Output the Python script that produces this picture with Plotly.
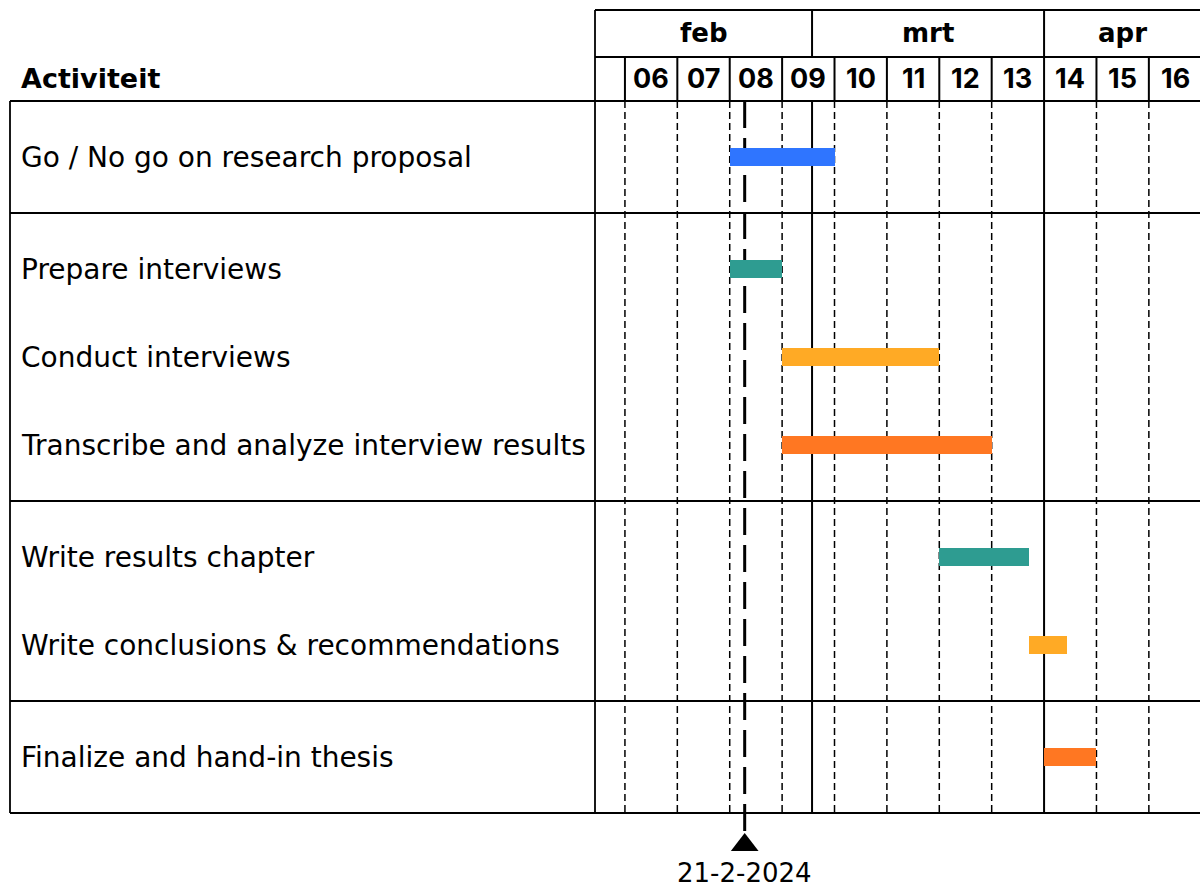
import plotly.graph_objects as go
import pandas as pd

# ---------------- data ----------------
activities = [
    "Go / No go on research proposal",
    "Prepare interviews",
    "Conduct interviews",
    "Transcribe and analyze interview results",
    "Write results chapter",
    "Write conclusions & recommendations",
    "Finalize and hand-in thesis",
]
group_ids = [0, 1, 1, 1, 2, 2, 3]
starts = ["2024-02-19", "2024-02-19", "2024-02-26", "2024-02-26",
          "2024-03-18", "2024-03-30", "2024-04-01"]
ends = ["2024-03-04", "2024-02-26", "2024-03-18", "2024-03-25",
        "2024-03-30", "2024-04-04", "2024-04-08"]
bar_colors = ["#2F75FF", "#2E9C91", "#FFAA25", "#FF7722",
              "#2E9C91", "#FFAA25", "#FF7722"]

week_labels = ["06", "07", "08", "09", "10", "11", "12", "13", "14", "15", "16"]
week_starts = ["2024-02-05", "2024-02-12", "2024-02-19", "2024-02-26",
               "2024-03-04", "2024-03-11", "2024-03-18", "2024-03-25",
               "2024-04-01", "2024-04-08", "2024-04-15"]
month_labels = ["feb", "mrt", "apr"]
month_starts = ["2024-02-01", "2024-03-01", "2024-04-01"]

today = "2024-02-21"
today_label = "21-2-2024"
header_label = "Activiteit"

x_start = "2024-02-01"
x_end = "2024-04-21 20:00"

# ---------------- layout helpers ----------------
W, H = 1200, 891
FONT = "DejaVu Sans"
DIGIT_FONT = "Inter"
ROW_H = 88
PAD = 12


def px(x):
    return x / W


def py(y):
    return 1 - y / H


# compute row centers and group boundaries (y axis in pixel-like units)
centers = []
boundaries = [0]
y = 0
n_groups = max(group_ids) + 1
for g in range(n_groups):
    y += PAD
    for i, gid in enumerate(group_ids):
        if gid == g:
            centers.append(y + ROW_H / 2)
            y += ROW_H
    y += PAD
    boundaries.append(y)
total_h = y

t_start = pd.Timestamp(x_start)
t_end = pd.Timestamp(x_end)
durations = [(pd.Timestamp(e) - pd.Timestamp(s)).total_seconds() * 1000
             for s, e in zip(starts, ends)]

fig = go.Figure()
fig.add_trace(go.Bar(
    y=centers, x=durations, base=starts, orientation="h",
    width=18, marker=dict(color=bar_colors, line=dict(width=0)),
    hoverinfo="skip", showlegend=False,
))

# today marker triangle on a full-height helper axis (pixel units, top = 0)
fig.add_trace(go.Scatter(
    x=[today], y=[845], mode="markers", yaxis="y2",
    marker=dict(symbol="triangle-up", size=24, color="black",
                line=dict(width=0)),
    cliponaxis=False, hoverinfo="skip", showlegend=False,
))

shapes = []
LC = "black"

# dashed week lines in plot area
for ws in week_starts:
    if ws in month_starts:
        continue
    shapes.append(dict(type="line", xref="x", yref="y", x0=ws, x1=ws,
                       y0=0, y1=total_h, layer="below",
                       line=dict(color=LC, width=1.5, dash="7px,4px")))

# month separators (solid), through plot area and month header row
for ms in month_starts[1:]:
    shapes.append(dict(type="line", xref="x", yref="y", x0=ms, x1=ms,
                       y0=0, y1=total_h, layer="below",
                       line=dict(color=LC, width=2)))
    shapes.append(dict(type="line", xref="x", yref="paper", x0=ms, x1=ms,
                       y0=py(10), y1=py(57), layer="below",
                       line=dict(color=LC, width=2)))

# week header cell separators
for ws in week_starts:
    shapes.append(dict(type="line", xref="x", yref="paper", x0=ws, x1=ws,
                       y0=py(57), y1=py(101), layer="below",
                       line=dict(color=LC, width=2)))

# group separators
for b in boundaries[1:-1]:
    shapes.append(dict(type="line", xref="paper", yref="y", x0=px(10), x1=1,
                       y0=b, y1=b, layer="below",
                       line=dict(color=LC, width=1.8)))

# frame lines
frame = [
    (px(595), py(10), 1, py(10)),
    (px(595), py(57), 1, py(57)),
    (px(10), py(101), 1, py(101)),
    (px(10), py(813), 1, py(813)),
    (px(595), py(10), px(595), py(813)),
    (px(10), py(101), px(10), py(813)),
]
for x0, y0, x1, y1 in frame:
    shapes.append(dict(type="line", xref="paper", yref="paper",
                       x0=x0, y0=y0, x1=x1, y1=y1, layer="below",
                       line=dict(color=LC, width=1.8)))

# today line
shapes.append(dict(type="line", xref="x", yref="paper", x0=today, x1=today,
                   y0=py(101), y1=py(832), layer="below",
                   line=dict(color=LC, width=3, dash="27px,10px")))

annotations = []
# row labels
for name, c in zip(activities, centers):
    annotations.append(dict(text=name, xref="paper", yref="y", x=px(19), y=c,
                            xanchor="left", yanchor="middle", showarrow=False,
                            font=dict(family=FONT, size=28, color="black")))
# header label
annotations.append(dict(text="<b>" + header_label + "</b>", xref="paper", yref="paper",
                        x=px(19), y=py(78), xanchor="left", yanchor="middle",
                        showarrow=False,
                        font=dict(family=FONT, size=27, color="black")))
# week labels
for wl, ws in zip(week_labels, week_starts):
    mid = pd.Timestamp(ws) + pd.Timedelta(days=3.5)
    annotations.append(dict(text="<b>" + wl + "</b>", xref="x", yref="paper",
                            x=mid, y=py(78), xanchor="center", yanchor="middle",
                            showarrow=False,
                            font=dict(family=DIGIT_FONT, size=27, color="black")))
# month labels (centered in the visible part of the month)
month_ends = month_starts[1:] + [None]
for ml, ms, me in zip(month_labels, month_starts, month_ends):
    s = max(pd.Timestamp(ms), t_start)
    e = t_end if me is None else min(pd.Timestamp(me), t_end)
    mid = s + (e - s) / 2
    annotations.append(dict(text="<b>" + ml + "</b>", xref="x", yref="paper",
                            x=mid, y=py(33), xanchor="center", yanchor="middle",
                            showarrow=False,
                            font=dict(family=FONT, size=26, color="black")))
# today label
annotations.append(dict(text=today_label, xref="x", yref="paper",
                        x=today, y=py(873), xanchor="center", yanchor="middle",
                        showarrow=False,
                        font=dict(family=FONT, size=26, color="black")))

fig.update_layout(
    width=W, height=H,
    margin=dict(l=0, r=0, t=0, b=0),
    paper_bgcolor="white", plot_bgcolor="rgba(0,0,0,0)",
    showlegend=False,
    xaxis=dict(type="date", domain=[px(595), 1], range=[x_start, x_end],
               visible=False, showgrid=False, zeroline=False, fixedrange=True),
    yaxis=dict(domain=[py(813), py(101)], range=[total_h, 0],
               visible=False, showgrid=False, zeroline=False, fixedrange=True),
    yaxis2=dict(domain=[0, 1], range=[H, 0], anchor="x",
                visible=False, showgrid=False, zeroline=False, fixedrange=True),
    shapes=shapes,
    annotations=annotations,
    bargap=0,
)

fig.write_html("out.html")
